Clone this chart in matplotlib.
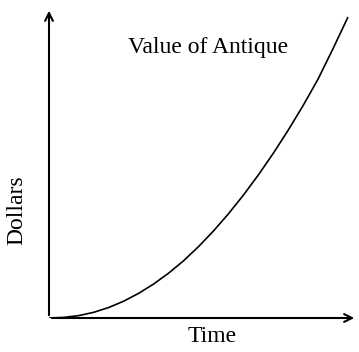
import matplotlib.pyplot as plt

# value of the antique over time (arbitrary units)
time = [0, 0.5, 1, 1.5, 2, 2.5, 3, 3.5, 4, 4.5, 5,
        5.5, 6, 6.5, 7, 7.5, 8, 8.5, 9, 9.5, 10]
dollars = [0, 0.2, 0.8, 1.9, 3.5, 5.6, 8.2, 11.3, 14.9, 19.0, 23.7,
           28.9, 34.6, 40.8, 47.5, 54.7, 62.4, 70.6, 79.4, 89.5, 100]

plt.rcParams['font.family'] = 'serif'
plt.rcParams['font.serif'] = ['Liberation Serif', 'DejaVu Serif']

fig = plt.figure(figsize=(3.59, 3.52), dpi=100)
ax = fig.add_axes([49/359, 34/352, 308/359, 310/352])
ax.plot(time, dollars, color='black', lw=1.2, solid_capstyle='butt')
ax.set_xlim(0, 10 * 308 / 299)
ax.set_ylim(0, 100 * 310 / 301)

for s in ax.spines.values():
    s.set_visible(False)
ax.set_xticks([])
ax.set_yticks([])

# axes drawn as arrows
ax.annotate('', xy=(1, 0), xytext=(0, 0), xycoords='axes fraction',
            arrowprops=dict(arrowstyle='->', lw=1.5, color='black', mutation_scale=14))
ax.annotate('', xy=(0, 1), xytext=(0, 0), xycoords='axes fraction',
            arrowprops=dict(arrowstyle='->', lw=1.5, color='black', mutation_scale=14))

fig.text(208/359, 1 - 48/352, 'Value of Antique', fontsize=17, ha='center', va='center')
fig.text(212/359, 1 - 337/352, 'Time', fontsize=17, ha='center', va='center')
fig.text(17/359, 1 - 210/352, 'Dollars', fontsize=17, ha='center', va='center', rotation=90)

fig.savefig('out.png', dpi=100)
